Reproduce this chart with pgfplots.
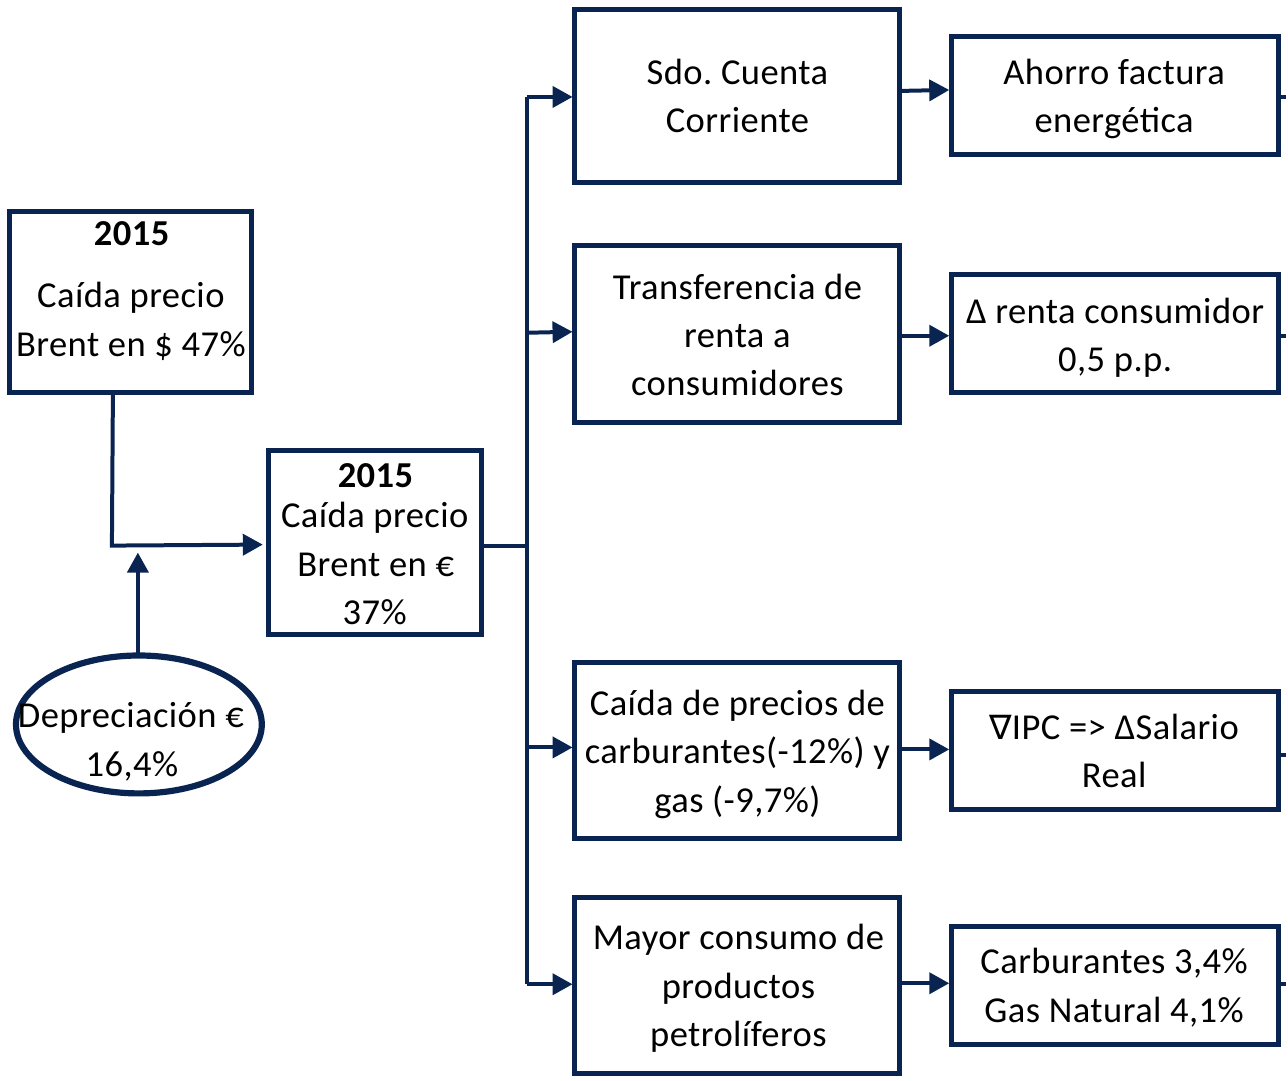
\documentclass[border=0pt]{standalone}
\usepackage{pgfplots}
\pgfplotsset{compat=1.18}
\usetikzlibrary{arrows.meta}
\usepackage{fontspec}
\setmainfont{Carlito}[LetterSpace=1.2]
\newfontfamily\symfont{DejaVu Sans}
\definecolor{navy}{RGB}{10,36,82}
\frenchspacing
\tikzset{
    box/.style={draw=navy, line width=0.5mm, line join=miter, mark=none},
    link/.style={draw=navy, line width=0.4mm, mark=none},
    arr/.style={link, -{Triangle[length=2mm,width=2.1mm]}},
    lbl/.style={anchor=mid, inner sep=0pt, yshift=-0.3mm, font=\fontsize{10.4pt}{12pt}\selectfont},
}

\begin{document}
\begin{tikzpicture}
\begin{axis}[
    width=12.88cm, height=10.81cm,
    scale only axis,
    xmin=0, xmax=1288, ymin=0, ymax=1081,
    y dir=reverse,
    hide axis,
    clip=false,
]
\path (axis cs:0,0) (axis cs:1288,1081);

% boxes
\addplot[box] coordinates {(10,212) (252,212) (252,393) (10,393)} -- cycle;
\addplot[box] coordinates {(269,451) (482,451) (482,635) (269,635)} -- cycle;
\addplot[box] coordinates {(575,9) (900,9) (900,183) (575,183)} -- cycle;
\addplot[box] coordinates {(575,246) (900,246) (900,423) (575,423)} -- cycle;
\addplot[box] coordinates {(575,663) (900,663) (900,839) (575,839)} -- cycle;
\addplot[box] coordinates {(575,898) (900,898) (900,1074) (575,1074)} -- cycle;
\addplot[box] coordinates {(952,37) (1279,37) (1279,155) (952,155)} -- cycle;
\addplot[box] coordinates {(952,275) (1279,275) (1279,393) (952,393)} -- cycle;
\addplot[box] coordinates {(952,692) (1279,692) (1279,810) (952,810)} -- cycle;
\addplot[box] coordinates {(952,927) (1279,927) (1279,1045) (952,1045)} -- cycle;

\draw[navy, line width=0.62mm] (axis cs:139,725) ellipse [x radius=1.23cm, y radius=0.69cm];

% connectors
\addplot[arr] coordinates {(113,393) (112,546) (263,545)};
\addplot[arr] coordinates {(138,653) (138,553)};
\addplot[link] coordinates {(482,546) (527,546)};
\addplot[link] coordinates {(527,97) (527,985)};
\addplot[arr] coordinates {(527,97) (573,97)};
\addplot[arr] coordinates {(527,333) (573,332)};
\addplot[arr] coordinates {(527,748) (573,748)};
\addplot[arr] coordinates {(527,985) (573,985)};
\addplot[arr] coordinates {(900,91) (950,90)};
\addplot[arr] coordinates {(900,336) (950,336)};
\addplot[arr] coordinates {(900,750) (950,750)};
\addplot[arr] coordinates {(900,984) (950,984)};
\addplot[link] coordinates {(1279,97) (1287,97)};
\addplot[link] coordinates {(1279,336) (1287,336)};
\addplot[link] coordinates {(1279,756) (1287,756)};
\addplot[link] coordinates {(1279,985) (1287,985)};

% texts
\node[lbl] at (axis cs:132,234) {\textbf{2015}};
\node[lbl] at (axis cs:131,296) {Caída precio};
\node[lbl] at (axis cs:131,345) {Brent en \$ 47\%};

\node[lbl] at (axis cs:376,476) {\textbf{2015}};
\node[lbl] at (axis cs:375,517) {Caída precio};
\node[lbl] at (axis cs:376,566) {Brent en €};
\node[lbl] at (axis cs:375,614) {37\%};

\node[lbl] at (axis cs:131,717) {Depreciación €};
\node[lbl] at (axis cs:132,766) {16,4\%};

\node[lbl] at (axis cs:738,73) {Sdo. Cuenta};
\node[lbl] at (axis cs:738,121) {Corriente};

\node[lbl] at (axis cs:738,288) {Transferencia de};
\node[lbl] at (axis cs:738,336) {renta a};
\node[lbl] at (axis cs:738,384) {consumidores};

\node[lbl] at (axis cs:738,705) {Caída de precios de};
\node[lbl] at (axis cs:738,753) {carburantes(-12\%) y};
\node[lbl] at (axis cs:738,802) {gas (-9,7\%)};

\node[lbl] at (axis cs:739,939) {Mayor consumo de};
\node[lbl] at (axis cs:739,988) {productos};
\node[lbl] at (axis cs:739,1036) {petrolíferos};

\node[lbl] at (axis cs:1115,73) {Ahorro factura};
\node[lbl] at (axis cs:1115,121) {energética};

\node[lbl] at (axis cs:1116,312) {Δ renta consumidor};
\node[lbl] at (axis cs:1116,360) {0,5 p.p.};

\node[lbl] at (axis cs:1115,729) {{\symfont\fontsize{9.6pt}{12pt}\selectfont ∇}IPC => ΔSalario};
\node[lbl] at (axis cs:1115,777) {Real};

\node[lbl] at (axis cs:1115,963) {Carburantes 3,4\%};
\node[lbl] at (axis cs:1115,1012) {Gas Natural 4,1\%};

\end{axis}
\end{tikzpicture}
\end{document}
